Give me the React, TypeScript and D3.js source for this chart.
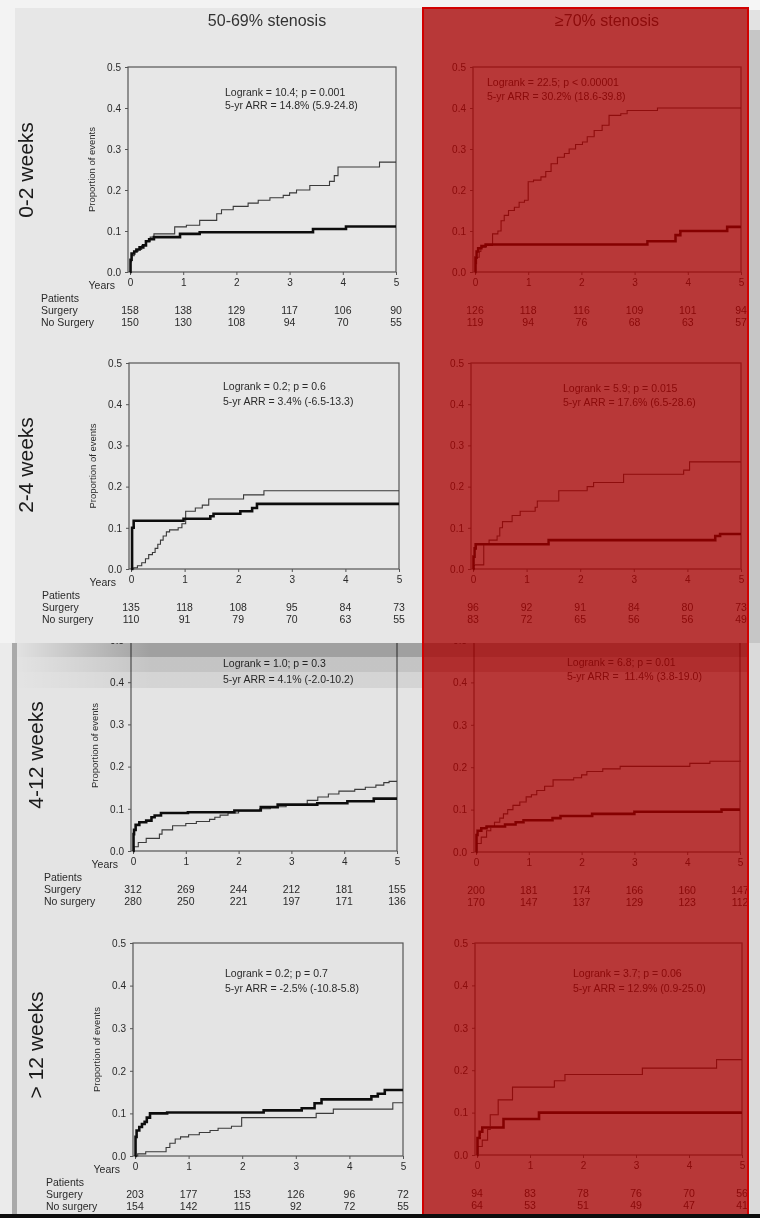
import { useEffect, useRef } from "react"
import * as d3 from "d3"

type Pt = [number, number]

const years = [0, 1, 2, 3, 4, 5]
const yTicks = [0, 0.1, 0.2, 0.3, 0.4, 0.5]
const columnTitles = ["50-69% stenosis", "≥70% stenosis"]
const rowLabels = ["0-2 weeks", "2-4 weeks", "4-12 weeks", "> 12 weeks"]

// 0-2 weeks, 50-69%
const surg02Mod: Pt[] = [[0, 0], [0.01, 0.03], [0.03, 0.045], [0.08, 0.05], [0.12, 0.055], [0.18, 0.06], [0.25, 0.065], [0.3, 0.075], [0.36, 0.08], [0.45, 0.085], [0.94, 0.093], [1.31, 0.097], [3.44, 0.105], [4.06, 0.111], [5, 0.111]]
const noSurg02Mod: Pt[] = [[0, 0], [0.01, 0.025], [0.03, 0.04], [0.08, 0.05], [0.15, 0.055], [0.22, 0.065], [0.3, 0.075], [0.38, 0.085], [0.45, 0.093], [0.84, 0.11], [1.06, 0.114], [1.31, 0.126], [1.63, 0.142], [1.72, 0.152], [1.94, 0.16], [2.22, 0.168], [2.41, 0.175], [2.63, 0.181], [2.88, 0.187], [3.0, 0.193], [3.13, 0.2], [3.38, 0.211], [3.75, 0.221], [3.84, 0.235], [3.91, 0.256], [4.69, 0.268], [5, 0.268]]
const riskSurg02Mod = [158, 138, 129, 117, 106, 90]
const riskNo02Mod = [150, 130, 108, 94, 70, 55]
const note02Mod = ["Logrank = 10.4; p = 0.001", "5-yr ARR = 14.8% (5.9-24.8)"]

// 0-2 weeks, >=70%
const surg02Sev: Pt[] = [[0, 0], [0.01, 0.035], [0.03, 0.05], [0.06, 0.058], [0.12, 0.063], [0.2, 0.067], [3.24, 0.075], [3.77, 0.09], [3.86, 0.1], [4.74, 0.11], [5, 0.11]]
const noSurg02Sev: Pt[] = [[0, 0], [0.01, 0.02], [0.03, 0.036], [0.08, 0.05], [0.11, 0.06], [0.2, 0.065], [0.33, 0.093], [0.43, 0.1], [0.49, 0.125], [0.55, 0.138], [0.63, 0.15], [0.74, 0.158], [0.83, 0.17], [0.93, 0.175], [1.0, 0.22], [1.1, 0.224], [1.24, 0.232], [1.33, 0.245], [1.43, 0.264], [1.55, 0.28], [1.68, 0.289], [1.77, 0.3], [1.89, 0.311], [2.02, 0.317], [2.11, 0.33], [2.24, 0.345], [2.39, 0.358], [2.52, 0.382], [2.74, 0.386], [2.86, 0.394], [3.43, 0.4], [5, 0.4]]
const riskSurg02Sev = [126, 118, 116, 109, 101, 94]
const riskNo02Sev = [119, 94, 76, 68, 63, 57]
const note02Sev = ["Logrank = 22.5; p < 0.00001", "5-yr ARR = 30.2% (18.6-39.8)"]

// 2-4 weeks, 50-69%
const surg24Mod: Pt[] = [[0, 0], [0.02, 0.1], [0.05, 0.117], [0.98, 0.122], [1.48, 0.128], [1.54, 0.134], [2.04, 0.14], [2.26, 0.148], [2.35, 0.158], [5, 0.158]]
const noSurg24Mod: Pt[] = [[0, 0], [0.05, 0.003], [0.12, 0.008], [0.2, 0.015], [0.27, 0.025], [0.33, 0.035], [0.4, 0.04], [0.45, 0.05], [0.5, 0.06], [0.55, 0.07], [0.6, 0.08], [0.66, 0.09], [0.72, 0.095], [0.88, 0.1], [0.95, 0.11], [1.02, 0.14], [1.2, 0.148], [1.33, 0.155], [1.45, 0.17], [2.1, 0.18], [2.48, 0.19], [5, 0.19]]
const riskSurg24Mod = [135, 118, 108, 95, 84, 73]
const riskNo24Mod = [110, 91, 79, 70, 63, 55]
const note24Mod = ["Logrank = 0.2; p = 0.6", "5-yr ARR = 3.4% (-6.5-13.3)"]

// 2-4 weeks, >=70%
const surg24Sev: Pt[] = [[0, 0], [0.01, 0.03], [0.03, 0.05], [0.05, 0.06], [1.41, 0.07], [4.52, 0.08], [4.61, 0.085], [5, 0.085]]
const noSurg24Sev: Pt[] = [[0, 0], [0.02, 0.01], [0.2, 0.06], [0.3, 0.07], [0.45, 0.08], [0.5, 0.1], [0.55, 0.115], [0.73, 0.13], [0.88, 0.14], [1.16, 0.15], [1.2, 0.165], [1.6, 0.19], [2.13, 0.2], [2.25, 0.21], [2.81, 0.23], [3.93, 0.24], [4.04, 0.26], [5, 0.26]]
const riskSurg24Sev = [96, 92, 91, 84, 80, 73]
const riskNo24Sev = [83, 72, 65, 56, 56, 49]
const note24Sev = ["Logrank = 5.9; p = 0.015", "5-yr ARR = 17.6% (6.5-28.6)"]

// 4-12 weeks, 50-69%
const surg412Mod: Pt[] = [[0, 0], [0.01, 0.04], [0.02, 0.05], [0.05, 0.062], [0.12, 0.068], [0.25, 0.072], [0.35, 0.08], [0.41, 0.084], [0.53, 0.09], [1.04, 0.092], [1.92, 0.096], [2.42, 0.104], [2.74, 0.11], [3.49, 0.113], [4.06, 0.118], [4.56, 0.124], [5, 0.124]]
const noSurg412Mod: Pt[] = [[0, 0], [0.02, 0.01], [0.1, 0.02], [0.25, 0.03], [0.5, 0.04], [0.55, 0.05], [0.75, 0.06], [1.0, 0.065], [1.2, 0.07], [1.45, 0.075], [1.55, 0.08], [1.65, 0.085], [1.8, 0.09], [2.0, 0.095], [2.4, 0.1], [2.6, 0.105], [2.9, 0.11], [3.3, 0.12], [3.5, 0.128], [3.7, 0.135], [3.9, 0.142], [4.2, 0.146], [4.4, 0.151], [4.6, 0.156], [4.75, 0.162], [4.85, 0.165], [5, 0.165]]
const riskSurg412Mod = [312, 269, 244, 212, 181, 155]
const riskNo412Mod = [280, 250, 221, 197, 171, 136]
const note412Mod = ["Logrank = 1.0; p = 0.3", "5-yr ARR = 4.1% (-2.0-10.2)"]

// 4-12 weeks, >=70%
const surg412Sev: Pt[] = [[0, 0], [0.01, 0.04], [0.03, 0.05], [0.1, 0.056], [0.2, 0.06], [0.55, 0.065], [0.75, 0.07], [0.9, 0.075], [1.45, 0.08], [1.6, 0.085], [2.2, 0.09], [3.0, 0.095], [4.65, 0.1], [5, 0.1]]
const noSurg412Sev: Pt[] = [[0, 0], [0.02, 0.02], [0.1, 0.035], [0.2, 0.05], [0.28, 0.06], [0.35, 0.07], [0.45, 0.08], [0.52, 0.09], [0.6, 0.1], [0.7, 0.11], [0.83, 0.118], [0.95, 0.13], [1.05, 0.135], [1.15, 0.145], [1.3, 0.155], [1.46, 0.17], [1.85, 0.175], [2.0, 0.182], [2.1, 0.19], [2.4, 0.196], [2.73, 0.202], [4.05, 0.209], [4.43, 0.214], [5, 0.216]]
const riskSurg412Sev = [200, 181, 174, 166, 160, 147]
const riskNo412Sev = [170, 147, 137, 129, 123, 112]
const note412Sev = ["Logrank = 6.8; p = 0.01", "5-yr ARR =  11.4% (3.8-19.0)"]

// > 12 weeks, 50-69%
const surg12Mod: Pt[] = [[0, 0], [0.01, 0.045], [0.03, 0.06], [0.08, 0.068], [0.13, 0.075], [0.18, 0.08], [0.22, 0.09], [0.28, 0.1], [0.6, 0.102], [2.4, 0.107], [3.11, 0.112], [3.35, 0.124], [3.48, 0.133], [4.41, 0.14], [4.53, 0.146], [4.66, 0.155], [5, 0.155]]
const noSurg12Mod: Pt[] = [[0, 0], [0.05, 0.005], [0.2, 0.01], [0.58, 0.02], [0.65, 0.03], [0.75, 0.04], [0.85, 0.045], [1.0, 0.05], [1.2, 0.055], [1.4, 0.06], [1.55, 0.065], [1.8, 0.07], [1.99, 0.09], [3.38, 0.1], [3.7, 0.11], [4.81, 0.125], [5, 0.125]]
const riskSurg12Mod = [203, 177, 153, 126, 96, 72]
const riskNo12Mod = [154, 142, 115, 92, 72, 55]
const note12Mod = ["Logrank = 0.2; p = 0.7", "5-yr ARR = -2.5% (-10.8-5.8)"]

// > 12 weeks, >=70%
const surg12Sev: Pt[] = [[0, 0], [0.01, 0.04], [0.05, 0.055], [0.1, 0.065], [0.5, 0.085], [1.17, 0.1], [5, 0.1]]
const noSurg12Sev: Pt[] = [[0, 0], [0.02, 0.02], [0.1, 0.035], [0.2, 0.06], [0.25, 0.095], [0.4, 0.13], [0.67, 0.16], [1.46, 0.175], [1.66, 0.19], [3.12, 0.205], [4.52, 0.225], [5, 0.225]]
const riskSurg12Sev = [94, 83, 78, 76, 70, 56]
const riskNo12Sev = [64, 53, 51, 49, 47, 41]
const note12Sev = ["Logrank = 3.7; p = 0.06", "5-yr ARR = 12.9% (0.9-25.0)"]

const panels = [
  { surg: surg02Mod, noSurg: noSurg02Mod, riskS: riskSurg02Mod, riskN: riskNo02Mod, note: note02Mod, noLabel: "No Surgery" },
  { surg: surg02Sev, noSurg: noSurg02Sev, riskS: riskSurg02Sev, riskN: riskNo02Sev, note: note02Sev },
  { surg: surg24Mod, noSurg: noSurg24Mod, riskS: riskSurg24Mod, riskN: riskNo24Mod, note: note24Mod, noLabel: "No surgery" },
  { surg: surg24Sev, noSurg: noSurg24Sev, riskS: riskSurg24Sev, riskN: riskNo24Sev, note: note24Sev },
  { surg: surg412Mod, noSurg: noSurg412Mod, riskS: riskSurg412Mod, riskN: riskNo412Mod, note: note412Mod, noLabel: "No surgery" },
  { surg: surg412Sev, noSurg: noSurg412Sev, riskS: riskSurg412Sev, riskN: riskNo412Sev, note: note412Sev },
  { surg: surg12Mod, noSurg: noSurg12Mod, riskS: riskSurg12Mod, riskN: riskNo12Mod, note: note12Mod, noLabel: "No surgery" },
  { surg: surg12Sev, noSurg: noSurg12Sev, riskS: riskSurg12Sev, riskN: riskNo12Sev, note: note12Sev },
]

// layout of each plot box (screen px)
const frames = [
  { left: 128, right: 396, top: 67, bottom: 272, noteX: 225, noteY: 92, gap: 13 },
  { left: 473, right: 741, top: 67, bottom: 272, noteX: 487, noteY: 82, gap: 14 },
  { left: 129, right: 399, top: 363, bottom: 569, noteX: 223, noteY: 386, gap: 15 },
  { left: 471, right: 741, top: 363, bottom: 569, noteX: 563, noteY: 388, gap: 14 },
  { left: 131, right: 397, top: 640, bottom: 851, noteX: 223, noteY: 663, gap: 16 },
  { left: 474, right: 740, top: 640, bottom: 852, noteX: 567, noteY: 662, gap: 14 },
  { left: 133, right: 403, top: 943, bottom: 1156, noteX: 225, noteY: 973, gap: 15 },
  { left: 475, right: 742, top: 943, bottom: 1155, noteX: 573, noteY: 973, gap: 15 },
]
const rowLabelPos = [
  { x: 25, y: 170 },
  { x: 25, y: 465 },
  { x: 35, y: 755 },
  { x: 35, y: 1045 },
]

const FONT = "'Liberation Sans', Arial, sans-serif"
const INK = "#2a2a2a"

export default function App() {
  const svgRef = useRef<SVGSVGElement>(null)

  useEffect(() => {
    if (!svgRef.current) return
    const svg = d3.select(svgRef.current)
    svg.selectAll("*").remove()

    const W = 760
    const H = 1218

    const defs = svg.append("defs")
    const grad = defs.append("linearGradient").attr("id", "bandGrad").attr("gradientUnits", "userSpaceOnUse")
      .attr("x1", 17).attr("x2", 150).attr("y1", 0).attr("y2", 0)
    grad.append("stop").attr("offset", 0).attr("stop-color", "#000").attr("stop-opacity", 0.04)
    grad.append("stop").attr("offset", 1).attr("stop-color", "#000").attr("stop-opacity", 1)
    defs.append("filter").attr("id", "soft").attr("x", 0).attr("y", 0).attr("width", 1).attr("height", 1)
      .append("feGaussianBlur").attr("stdDeviation", 0.45)

    const root = svg.append("g").attr("filter", "url(#soft)")

    // fondo general
    root.append("rect").attr("width", W).attr("height", H).attr("fill", "#f1f1f1")

    // lower screenshot area
    root.append("rect").attr("x", 0).attr("y", 643).attr("width", 12).attr("height", H - 643).attr("fill", "#ebebeb")
    root.append("rect").attr("x", 12).attr("y", 643).attr("width", 5).attr("height", H - 643).attr("fill", "#a9a9a9")
    root.append("rect").attr("x", 17).attr("y", 643).attr("width", 731).attr("height", H - 643).attr("fill", "#e4e4e4")

    const drawPanel = (idx: number) => {
      const p = panels[idx]
      const f = frames[idx]
      const isLeft = idx % 2 === 0
      const g = root.append("g").attr("font-family", FONT)

      const x = d3.scaleLinear().domain([0, 5]).range([f.left + 2, f.right])
      const y = d3.scaleLinear().domain([0, 0.5]).range([f.bottom, f.top])

      const yAxis = g.append("g").attr("transform", `translate(${f.left},0)`)
        .call(d3.axisLeft(y).tickValues(yTicks).tickSize(3).tickPadding(4).tickFormat(d3.format(".1f")))
      const xAxis = g.append("g").attr("transform", `translate(0,${f.bottom})`)
        .call(d3.axisBottom(x).tickValues(years).tickSize(3).tickPadding(4).tickFormat(d3.format("d")))
      ;[yAxis, xAxis].forEach((a) => {
        a.select(".domain").remove()
        a.selectAll("line").attr("stroke", "#555")
        a.selectAll("text").attr("fill", INK).attr("font-size", 10).attr("font-family", FONT)
      })

      g.append("rect")
        .attr("x", f.left).attr("y", f.top)
        .attr("width", f.right - f.left).attr("height", f.bottom - f.top)
        .attr("fill", "none").attr("stroke", "#555").attr("stroke-width", 1.2)

      const line = d3.line<Pt>().x((d) => x(d[0])).y((d) => y(d[1])).curve(d3.curveStepAfter)
      g.append("path").attr("d", line(p.noSurg)).attr("fill", "none").attr("stroke", "#3a3a3a").attr("stroke-width", 1.1)
      g.append("path").attr("d", line(p.surg)).attr("fill", "none").attr("stroke", "#111").attr("stroke-width", 2.6)

      // anotación
      p.note.forEach((t, i) => {
        g.append("text").attr("x", f.noteX).attr("y", f.noteY + 4 + i * f.gap)
          .attr("font-size", 10.5).attr("fill", INK).attr("xml:space", "preserve").text(t)
      })

      // pacientes en riesgo
      years.forEach((yr, i) => {
        g.append("text").attr("x", x(yr)).attr("y", f.bottom + 42).attr("text-anchor", "middle")
          .attr("font-size", 10.5).attr("fill", INK).text(p.riskS[i])
        g.append("text").attr("x", x(yr)).attr("y", f.bottom + 54).attr("text-anchor", "middle")
          .attr("font-size", 10.5).attr("fill", INK).text(p.riskN[i])
      })

      if (isLeft) {
        g.append("text").attr("x", f.left - 13).attr("y", f.bottom + 17).attr("text-anchor", "end")
          .attr("font-size", 10.5).attr("fill", INK).text("Years")
        const lx = f.left - 87
        g.append("text").attr("x", lx).attr("y", f.bottom + 30).attr("font-size", 10.5).attr("fill", INK).text("Patients")
        g.append("text").attr("x", lx).attr("y", f.bottom + 42).attr("font-size", 10.5).attr("fill", INK).text("Surgery")
        g.append("text").attr("x", lx).attr("y", f.bottom + 54).attr("font-size", 10.5).attr("fill", INK).text(p.noLabel || "")
        g.append("text")
          .attr("transform", `translate(${f.left - 33},${(f.top + f.bottom) / 2}) rotate(-90)`)
          .attr("text-anchor", "middle").attr("font-size", 9.5).attr("fill", INK)
          .text("Proportion of events")
      }
    }

    // lower rows first (partly hidden by upper screenshot)
    ;[4, 5, 6, 7].forEach(drawPanel)

    // upper screenshot area
    root.append("rect").attr("x", 0).attr("y", 0).attr("width", W).attr("height", 8).attr("fill", "#f3f3f3")
    root.append("rect").attr("x", 0).attr("y", 0).attr("width", 15).attr("height", 643).attr("fill", "#f3f3f3")
    root.append("rect").attr("x", 15).attr("y", 8).attr("width", 733).attr("height", 635).attr("fill", "#e7e7e7")

    ;[0, 1, 2, 3].forEach(drawPanel)

    // column titles
    const titleX = [267, 607]
    columnTitles.forEach((t, i) => {
      root.append("text").attr("x", titleX[i]).attr("y", 26).attr("text-anchor", "middle")
        .attr("font-family", FONT).attr("font-size", 16).attr("fill", "#333").text(t)
    })

    // row labels
    rowLabels.forEach((t, i) => {
      root.append("text")
        .attr("transform", `translate(${rowLabelPos[i].x + 8},${rowLabelPos[i].y}) rotate(-90)`)
        .attr("text-anchor", "middle").attr("font-family", FONT).attr("font-size", 21).attr("fill", "#1a1a1a")
        .text(t)
    })

    // blurred seam between screenshots
    root.append("rect").attr("x", 17).attr("y", 643).attr("width", 731).attr("height", 14)
      .attr("fill", "url(#bandGrad)").attr("opacity", 0.3)
    root.append("rect").attr("x", 17).attr("y", 657).attr("width", 731).attr("height", 15)
      .attr("fill", "url(#bandGrad)").attr("opacity", 0.14)
    root.append("rect").attr("x", 17).attr("y", 672).attr("width", 406).attr("height", 16)
      .attr("fill", "url(#bandGrad)").attr("opacity", 0.07)

    // red highlight of the >=70% column
    root.append("rect").attr("x", 423).attr("y", 8).attr("width", 325).attr("height", H - 8)
      .attr("fill", "rgb(170,0,0)").attr("fill-opacity", 0.76)
      .attr("stroke", "#d10000").attr("stroke-width", 2)

    // right edge strip
    root.append("rect").attr("x", 749).attr("y", 0).attr("width", 11).attr("height", 10).attr("fill", "#f6f6f6")
    root.append("rect").attr("x", 749).attr("y", 10).attr("width", 11).attr("height", 20).attr("fill", "#e2e2e2")
    root.append("rect").attr("x", 749).attr("y", 30).attr("width", 11).attr("height", 613).attr("fill", "#c6c6c6")
    root.append("rect").attr("x", 749).attr("y", 643).attr("width", 11).attr("height", H - 643).attr("fill", "#dadada")

    // bottom edge
    root.append("rect").attr("x", 0).attr("y", H - 4).attr("width", W).attr("height", 4).attr("fill", "#111")
  }, [])

  return (
    <svg
      ref={svgRef}
      width={760}
      height={1218}
      style={{ position: "absolute", left: 0, top: 0, display: "block" }}
    />
  )
}
